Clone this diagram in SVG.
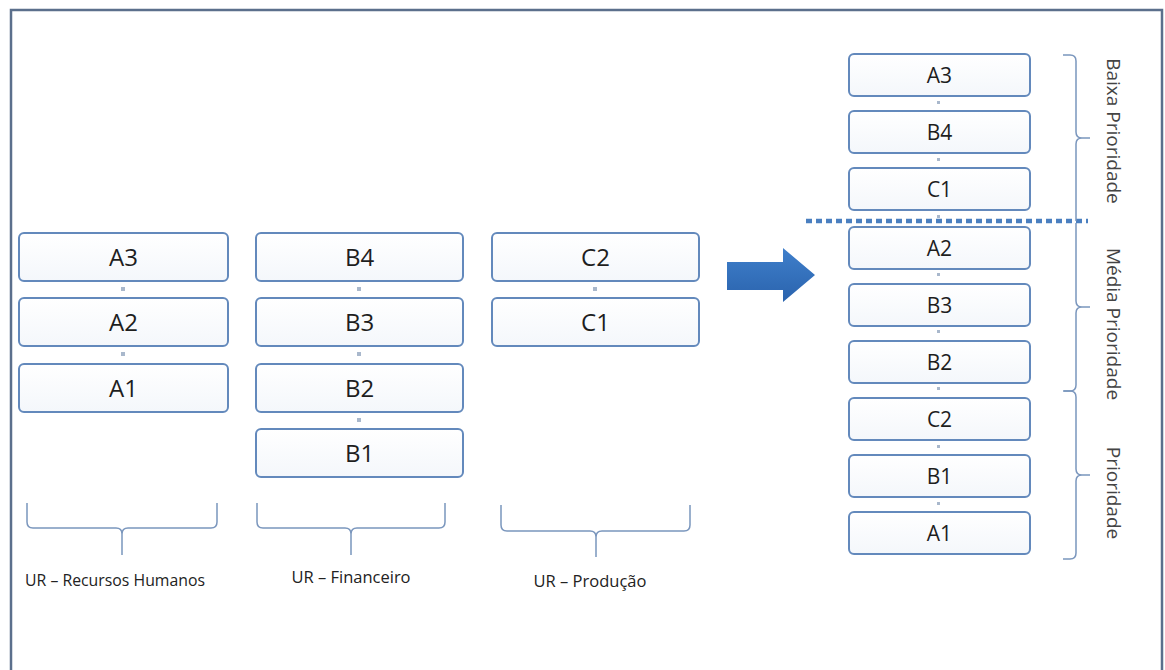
<svg xmlns="http://www.w3.org/2000/svg" width="1165" height="670" viewBox="0 0 1165 670">
<defs>
<linearGradient id="boxg" x1="0" y1="0" x2="0" y2="1">
<stop offset="0" stop-color="#ffffff"/>
<stop offset="1" stop-color="#f4f7fb"/>
</linearGradient>
<linearGradient id="arrg" x1="0" y1="0" x2="0" y2="1">
<stop offset="0" stop-color="#3f7fcb"/>
<stop offset="1" stop-color="#2a63ad"/>
</linearGradient>
</defs>
<style>
.box{fill:url(#boxg);stroke:#6389bc;stroke-width:2}
.lbl{font-family:"Open Sans","Liberation Sans",sans-serif;font-size:24px;fill:#1e1e1e;text-anchor:middle}
.lbr{font-family:"Open Sans","Liberation Sans",sans-serif;font-size:21px;fill:#1e1e1e;text-anchor:middle}
.dot{fill:#a9b8cc}
.brace{fill:none;stroke:#7a96bd;stroke-width:1.5}
.cap{font-family:"Open Sans","Liberation Sans",sans-serif;font-size:16.5px;fill:#222;text-anchor:middle}
.rot{font-family:"Open Sans","Liberation Sans",sans-serif;font-size:19px;fill:#444;text-anchor:middle}
</style>
<rect x="0" y="0" width="1165" height="670" fill="#ffffff"/>
<path d="M11,672 V10 H1162 V672" fill="none" stroke="#5b6f8c" stroke-width="2.5"/>

<g id="connectors">
<rect class="dot" x="121" y="287" width="4" height="4"/>
<rect class="dot" x="121" y="352" width="4" height="4"/>
<rect class="dot" x="357" y="287" width="4" height="4"/>
<rect class="dot" x="357" y="352" width="4" height="4"/>
<rect class="dot" x="357" y="418" width="4" height="4"/>
<rect class="dot" x="593" y="287" width="4" height="4"/>
<rect class="dot" x="937" y="101" width="3" height="3"/>
<rect class="dot" x="937" y="158" width="3" height="3"/>
<rect class="dot" x="937" y="215" width="3" height="3"/>
<rect class="dot" x="937" y="273" width="3" height="3"/>
<rect class="dot" x="937" y="330" width="3" height="3"/>
<rect class="dot" x="937" y="387" width="3" height="3"/>
<rect class="dot" x="937" y="445" width="3" height="3"/>
<rect class="dot" x="937" y="502" width="3" height="3"/>
<path id="big-arrow" d="M727,262 H783 V248 L815,275 L783,302 V290 H727 Z" fill="url(#arrg)"/>
<line id="divider" x1="806" y1="221" x2="1088" y2="221" stroke="#4a7fc0" stroke-width="4.5" stroke-dasharray="6,4"/>
</g>

<g id="node-A3"><rect class="box" x="19" y="233" width="209" height="48" rx="5"/><text class="lbl" x="123.5" y="266">A3</text></g>
<g id="node-A2"><rect class="box" x="19" y="298" width="209" height="48" rx="5"/><text class="lbl" x="123.5" y="331">A2</text></g>
<g id="node-A1"><rect class="box" x="19" y="364" width="209" height="48" rx="5"/><text class="lbl" x="123.5" y="397">A1</text></g>

<g id="node-B4"><rect class="box" x="256" y="233" width="207" height="48" rx="5"/><text class="lbl" x="359.5" y="266">B4</text></g>
<g id="node-B3"><rect class="box" x="256" y="298" width="207" height="48" rx="5"/><text class="lbl" x="359.5" y="331">B3</text></g>
<g id="node-B2"><rect class="box" x="256" y="364" width="207" height="48" rx="5"/><text class="lbl" x="359.5" y="397">B2</text></g>
<g id="node-B1"><rect class="box" x="256" y="429" width="207" height="48" rx="5"/><text class="lbl" x="359.5" y="462">B1</text></g>

<g id="node-C2"><rect class="box" x="492" y="233" width="207" height="48" rx="5"/><text class="lbl" x="595.5" y="266">C2</text></g>
<g id="node-C1"><rect class="box" x="492" y="298" width="207" height="48" rx="5"/><text class="lbl" x="595.5" y="331">C1</text></g>

<g id="node-R-A3"><rect class="box" x="849" y="54" width="181" height="42" rx="5"/><text class="lbr" x="939.5" y="82.5">A3</text></g>
<g id="node-R-B4"><rect class="box" x="849" y="111" width="181" height="42" rx="5"/><text class="lbr" x="939.5" y="139.5">B4</text></g>
<g id="node-R-C1"><rect class="box" x="849" y="168" width="181" height="42" rx="5"/><text class="lbr" x="939.5" y="196.5">C1</text></g>
<g id="node-R-A2"><rect class="box" x="849" y="227" width="181" height="42" rx="5"/><text class="lbr" x="939.5" y="255.5">A2</text></g>
<g id="node-R-B3"><rect class="box" x="849" y="284" width="181" height="42" rx="5"/><text class="lbr" x="939.5" y="312.5">B3</text></g>
<g id="node-R-B2"><rect class="box" x="849" y="341" width="181" height="42" rx="5"/><text class="lbr" x="939.5" y="369.5">B2</text></g>
<g id="node-R-C2"><rect class="box" x="849" y="398" width="181" height="42" rx="5"/><text class="lbr" x="939.5" y="426.5">C2</text></g>
<g id="node-R-B1"><rect class="box" x="849" y="455" width="181" height="42" rx="5"/><text class="lbr" x="939.5" y="483.5">B1</text></g>
<g id="node-R-A1"><rect class="box" x="849" y="512" width="181" height="42" rx="5"/><text class="lbr" x="939.5" y="540.5">A1</text></g>

<g id="brace-rh">
<path class="brace" d="M27,503 V522 Q27,528 33,528 H116 Q122,528 122,534 V555 M122,534 Q122,528 128,528 H211 Q217,528 217,522 V503"/>
<text class="cap" x="115" y="586" textLength="180" lengthAdjust="spacingAndGlyphs">UR – Recursos Humanos</text>
</g>
<g id="brace-fin">
<path class="brace" d="M257,503 V522 Q257,528 263,528 H345 Q351,528 351,534 V555 M351,534 Q351,528 357,528 H439 Q445,528 445,522 V503"/>
<text class="cap" x="351" y="583">UR – Financeiro</text>
</g>
<g id="brace-prod">
<path class="brace" d="M501,505 V525 Q501,531 507,531 H590 Q596,531 596,537 V557 M596,537 Q596,531 602,531 H684 Q690,531 690,525 V505"/>
<text class="cap" x="590" y="587">UR – Produção</text>
</g>

<g id="brace-baixa">
<path class="brace" d="M1063,55 H1070 Q1076,55 1076,61 V132 Q1076,138 1082,138 H1090 M1082,138 Q1076,138 1076,144 V221"/>
<text class="rot" transform="translate(1107,131) rotate(90)">Baixa Prioridade</text>
</g>
<g id="brace-media">
<path class="brace" d="M1076,223 V301 Q1076,307 1082,307 H1090 M1082,307 Q1076,307 1076,313 V385 Q1076,391 1070,391 H1064"/>
<text class="rot" transform="translate(1107,324) rotate(90)">Média Prioridade</text>
</g>
<g id="brace-prio">
<path class="brace" d="M1063,391 H1070 Q1076,391 1076,397 V469 Q1076,475 1082,475 H1090 M1082,475 Q1076,475 1076,481 V553 Q1076,559 1070,559 H1063"/>
<text class="rot" transform="translate(1107,493) rotate(90)">Prioridade</text>
</g>
</svg>
